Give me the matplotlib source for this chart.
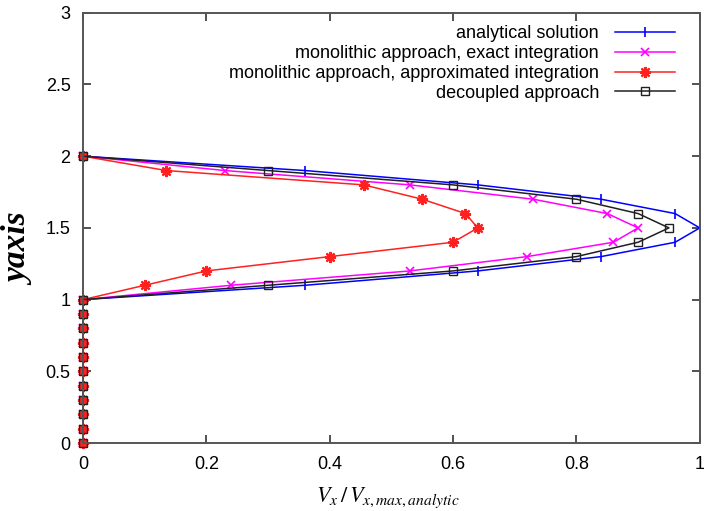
import numpy as np
import matplotlib
matplotlib.use("Agg")
import matplotlib.pyplot as plt

plt.rcParams['font.family'] = ['Liberation Sans', 'DejaVu Sans']
plt.rcParams['mathtext.fontset'] = 'stix'

# y positions of the samples
y = [0.0, 0.1, 0.2, 0.3, 0.4, 0.5, 0.6, 0.7, 0.8, 0.9, 1.0,
     1.1, 1.2, 1.3, 1.4, 1.5, 1.6, 1.7, 1.8, 1.9, 2.0]
zeros = [0.0] * 11

analytic = zeros + [0.36, 0.64, 0.84, 0.96, 1.0, 0.96, 0.84, 0.64, 0.36, 0.0]
mono_exact = zeros + [0.24, 0.53, 0.72, 0.86, 0.90, 0.85, 0.73, 0.53, 0.23, 0.0]
mono_approx = zeros + [0.10, 0.20, 0.40, 0.60, 0.64, 0.62, 0.55, 0.455, 0.135, 0.0]
decoupled = zeros + [0.30, 0.60, 0.80, 0.90, 0.95, 0.90, 0.80, 0.60, 0.30, 0.0]

labels = ['analytical solution',
          'monolithic approach, exact integration',
          'monolithic approach, approximated integration',
          'decoupled approach']

fig = plt.figure(figsize=(7.04, 5.11), dpi=100)
ax = fig.add_axes([0.118, 0.133, 0.876, 0.842])

ax.plot(analytic, y, color='#0000ff', lw=1.1, marker='|', ms=7, mew=1.2, label=labels[0], clip_on=False)
ax.plot(mono_exact, y, color='#ff00ff', lw=1.1, marker='x', ms=6, mew=1.2, label=labels[1], clip_on=False)
ax.plot(mono_approx, y, color='#ff2020', lw=1.1, marker=(8, 2, 0), ms=8, mew=1.6, label=labels[2], clip_on=False)
ax.plot(decoupled, y, color='#202020', lw=1.1, marker='s', ms=6, mfc='none', mew=1.0, label=labels[3], clip_on=False)

ax.set_xlim(0, 1)
ax.set_ylim(0, 3)
ax.set_xticks([0, 0.2, 0.4, 0.6, 0.8, 1])
ax.set_xticklabels(['0', '0.2', '0.4', '0.6', '0.8', '1'])
ax.set_yticks([0, 0.5, 1, 1.5, 2, 2.5, 3])
ax.set_yticklabels(['0', '0.5', '1', '1.5', '2', '2.5', '3'])
ax.tick_params(direction='in', top=True, right=True, length=6, width=1.2,
               labelsize=13, colors='#333333', labelcolor='black', pad=9)
for s in ax.spines.values():
    s.set_color('#555555')
    s.set_linewidth(1.4)

ax.set_xlabel(r'$V_x\,/\,V_{x,max,analytic}$', fontsize=16)
ax.xaxis.set_label_coords(0.495, -0.098)
ax.set_ylabel('yaxis', fontfamily='Liberation Serif', fontstyle='italic',
              fontweight='bold', fontsize=24)
ax.yaxis.set_label_coords(-0.078, 0.45)

ax.legend(loc='upper right', frameon=False, markerfirst=False, fontsize=13,
          handlelength=3.3, handletextpad=0.9, labelspacing=0.15,
          borderaxespad=0.3, bbox_to_anchor=(0.98, 1.0))
leg = ax.get_legend()
for t in leg.get_texts():
    t.set_ha('right')
leg._legend_box.align = 'right'

fig.savefig('out.png', dpi=100)
